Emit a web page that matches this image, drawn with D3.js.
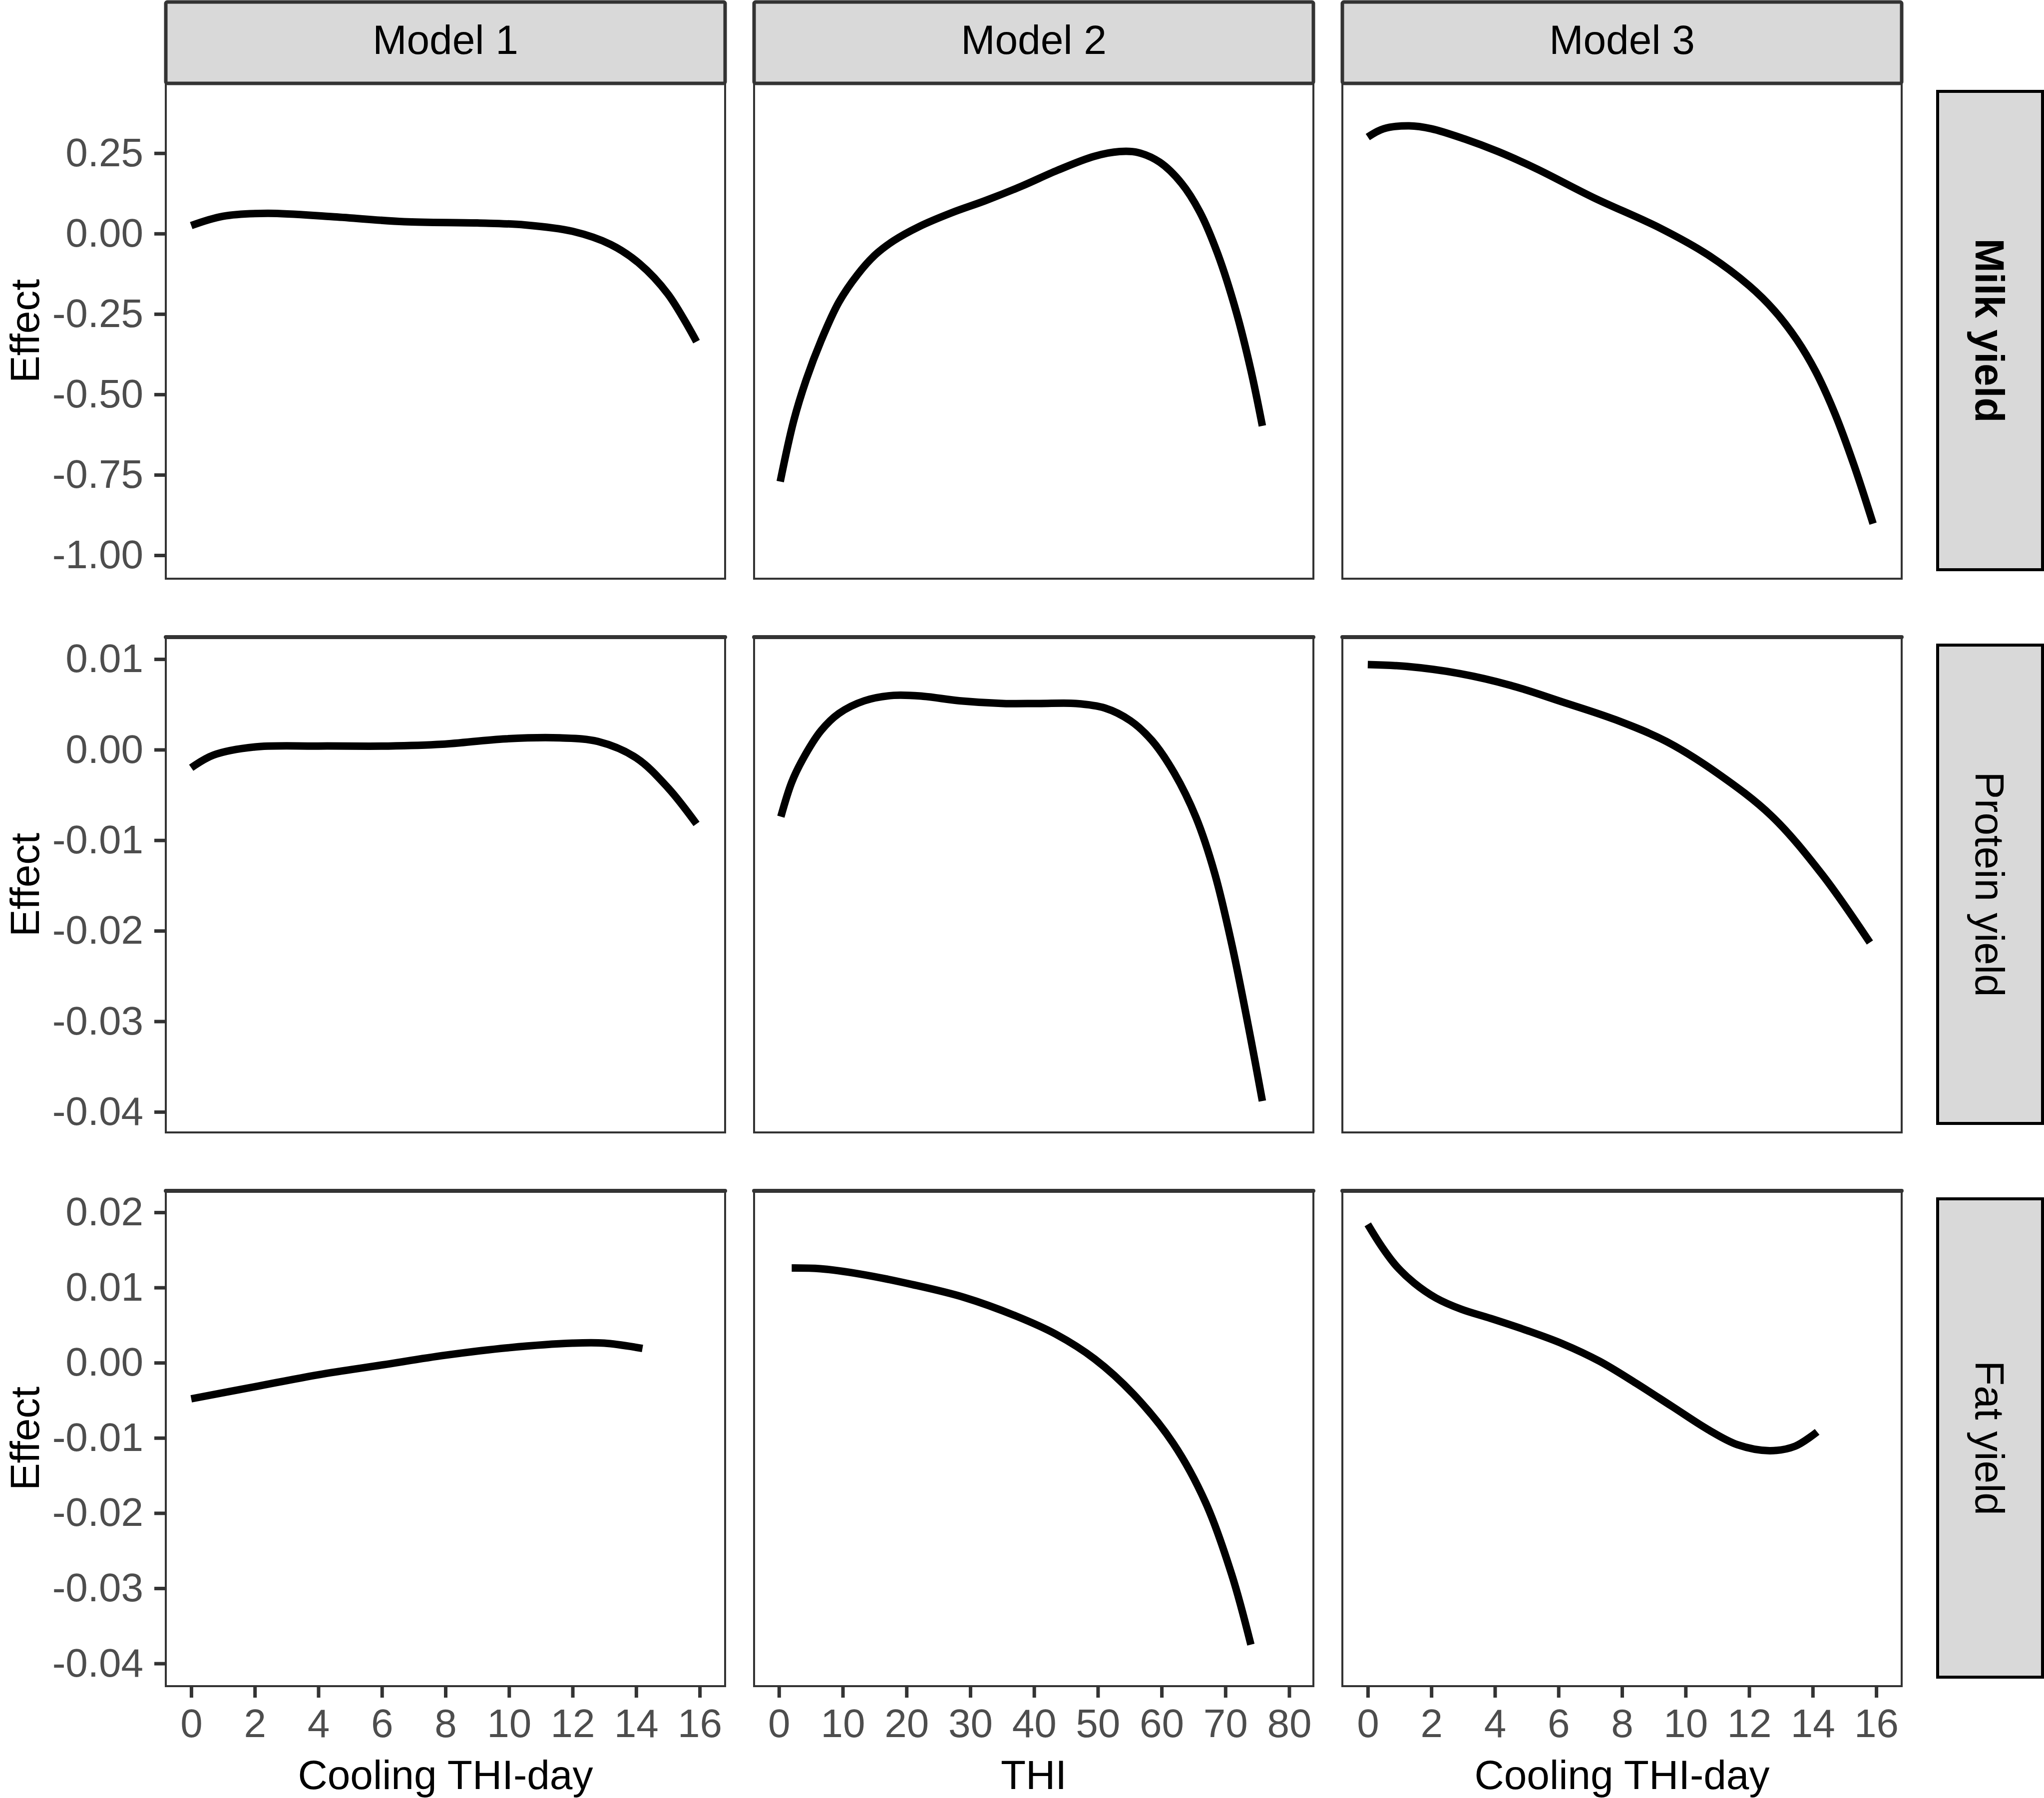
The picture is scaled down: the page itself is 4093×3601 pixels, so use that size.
<!DOCTYPE html>
<html>
<head>
<meta charset="utf-8">
<script src="https://cdn.jsdelivr.net/npm/d3@7"></script>
<style>
  body { margin: 0; background: #fff; }
  text { font-family: "Liberation Sans", Arial, sans-serif; }
</style>
</head>
<body>
<svg id="svg"></svg>
<script>
var larghezza = 4093;
var altezza = 3601;

// facet labels
var models = ["Model 1", "Model 2", "Model 3"];
var traits = ["Milk yield", "Protein yield", "Fat yield"];
var xTitles = ["Cooling THI-day", "THI", "Cooling THI-day"];

// tick values
var xTicksCool = [0, 2, 4, 6, 8, 10, 12, 14, 16];
var xTicksTHI = [0, 10, 20, 30, 40, 50, 60, 70, 80];
var yTicksMilk = [0.25, 0, -0.25, -0.5, -0.75, -1.0];
var yTicksProt = [0.01, 0, -0.01, -0.02, -0.03, -0.04];
var yTicksFat = [0.02, 0.01, 0, -0.01, -0.02, -0.03, -0.04];

// curves: [x, effect]
var milkM1 = [[0,0.025],[1,0.054],[2.4,0.063],[4.5,0.052],[6.7,0.037],[9,0.033],[10.5,0.027],[12,0.007],[13.2,-0.034],[14.1,-0.093],[15,-0.188],[15.9,-0.336]];
var milkM2 = [[0.2,-0.771],[2.3,-0.583],[4.3,-0.453],[6.6,-0.333],[9.4,-0.213],[12.3,-0.128],[15.1,-0.066],[18,-0.022],[22,0.022],[27.1,0.065],[32.3,0.102],[38,0.147],[43.7,0.197],[49.4,0.240],[53.4,0.255],[56.3,0.252],[59.7,0.222],[63.1,0.157],[66,0.067],[68.8,-0.063],[71.7,-0.243],[74,-0.425],[75.8,-0.598]];
var milkM3 = [[0,0.300],[0.5,0.326],[1.3,0.335],[2,0.326],[3.05,0.294],[4.1,0.255],[5.3,0.202],[7.1,0.112],[9.2,0.017],[10.7,-0.066],[12,-0.162],[12.8,-0.240],[13.5,-0.330],[14.1,-0.430],[14.7,-0.560],[15.3,-0.720],[15.9,-0.902]];

var protM1 = [[0,-0.0020],[0.7,-0.0006],[2,0.0003],[4,0.0004],[6.2,0.0004],[7.9,0.0006],[9.9,0.0012],[11.6,0.0013],[12.8,0.0009],[14,-0.0009],[15,-0.0042],[15.9,-0.0082]];
var protM2 = [[0.3,-0.0074],[2,-0.0036],[3.7,-0.0011],[6.6,0.0021],[9.4,0.0040],[13.4,0.0054],[18,0.0060],[22.6,0.0059],[28.3,0.0054],[35.2,0.0051],[40.8,0.0051],[46.6,0.0051],[51.1,0.0046],[55.1,0.0032],[58.5,0.0010],[62,-0.0026],[65.4,-0.0075],[68.3,-0.0136],[71.1,-0.0218],[74,-0.0320],[75.8,-0.0388]];
var protM3 = [[0,0.0094],[1.2,0.0092],[2.9,0.0084],[4.5,0.0071],[6.1,0.0053],[7.8,0.0033],[9.4,0.0009],[11,-0.0026],[12.7,-0.0073],[14.3,-0.0138],[15.8,-0.0213]];

var fatM1 = [[0,-0.0048],[2,-0.0032],[4,-0.0016],[6,-0.0003],[8,0.0010],[10,0.0020],[12,0.0026],[13,0.0026],[14.2,0.0019]];
var fatM2 = [[2,0.0126],[6.5,0.0125],[12.7,0.0118],[20.9,0.0104],[29,0.0087],[37.2,0.0062],[43.4,0.0038],[49.5,0.0005],[55.6,-0.0042],[61.8,-0.0107],[66.9,-0.0186],[71,-0.0282],[74,-0.0375]];
var fatM3 = [[0,0.0184],[0.43,0.0155],[0.89,0.0129],[1.46,0.0106],[2.15,0.0086],[2.95,0.0071],[3.86,0.0059],[5,0.0043],[6.14,0.0025],[7.29,0.0002],[8.43,-0.0027],[9.57,-0.0058],[10.71,-0.0089],[11.63,-0.0109],[12.65,-0.0117],[13.45,-0.0111],[14.14,-0.0092]];

var curves = [[milkM1, milkM2, milkM3], [protM1, protM2, protM3], [fatM1, fatM2, fatM3]];
var xTicks = [xTicksCool, xTicksTHI, xTicksCool];
var yTicks = [yTicksMilk, yTicksProt, yTicksFat];

// layout
var colLefts = [332, 1510, 2688];
var rowTops = [167, 1276, 2385];
var panelW = 1120;
var panelH = 992;
var xDomains = [[-0.8, 16.8], [-3.9, 83.8], [-0.8, 16.8]];
var yDomains = [[-1.073, 0.467], [-0.04227, 0.01243], [-0.04302, 0.02286]];

var tickColor = "#333333";
var labelColor = "#4d4d4d";
var stripFill = "#d9d9d9";

function fmt(d) {
    return d3.format(".2f")(d).replace("\u2212", "-");
}

function draw() {
    var svg = d3.select("#svg");
    svg.attr("width", larghezza).attr("height", altezza);
    svg.append("rect").attr("width", larghezza).attr("height", altezza).style("fill", "white");

    for (var r = 0; r < 3; r++) {
        for (var c = 0; c < 3; c++) {
            drawPanel(svg, r, c);
        }
    }
    drawStrips(svg);
    drawTitles(svg);
}

function drawPanel(svg, r, c) {
    var x = d3.scaleLinear().domain(xDomains[c]).range([colLefts[c], colLefts[c] + panelW]);
    var y = d3.scaleLinear().domain(yDomains[r]).range([rowTops[r] + panelH, rowTops[r]]);

    svg.append("rect")
        .attr("x", colLefts[c]).attr("y", rowTops[r])
        .attr("width", panelW).attr("height", panelH)
        .style("fill", "white")
        .style("stroke", tickColor)
        .style("stroke-width", "4px");

    var line = d3.line()
        .x(function (d) { return x(d[0]); })
        .y(function (d) { return y(d[1]); })
        .curve(d3.curveCatmullRom.alpha(0.5));

    svg.append("path")
        .datum(curves[r][c])
        .attr("d", line)
        .style("fill", "none")
        .style("stroke", "black")
        .style("stroke-width", "15px");

    if (c === 0) {
        var ax = svg.append("g")
            .attr("transform", "translate(" + colLefts[c] + ",0)")
            .call(d3.axisLeft(y).tickValues(yTicks[r]).tickFormat(fmt).tickSize(23).tickPadding(22).tickSizeOuter(0));
        styleAxis(ax);
    }
    if (r === 2) {
        var bx = svg.append("g")
            .attr("transform", "translate(0," + (rowTops[r] + panelH) + ")")
            .call(d3.axisBottom(x).tickValues(xTicks[c]).tickFormat(d3.format("d")).tickSize(23).tickPadding(22).tickSizeOuter(0));
        styleAxis(bx);
    }
}

function styleAxis(g) {
    g.select(".domain").remove();
    g.selectAll(".tick line").style("stroke", tickColor).style("stroke-width", "7px");
    g.selectAll(".tick text")
        .style("font-family", "'Liberation Sans', Arial, sans-serif")
        .style("font-size", "80px")
        .style("fill", labelColor);
}

function drawStrips(svg) {
    models.forEach(function (m, c) {
        svg.append("rect")
            .attr("x", colLefts[c]).attr("y", 4)
            .attr("width", panelW).attr("height", rowTops[0] - 4)
            .attr("rx", 3)
            .style("fill", stripFill)
            .style("stroke", tickColor)
            .style("stroke-width", "7px");
        svg.append("text")
            .attr("x", colLefts[c] + panelW / 2)
            .attr("y", 108)
            .attr("text-anchor", "middle")
            .style("font-size", "82px")
            .style("fill", "black")
            .text(m);
    });

    // thick top edge of the lower rows
    [1, 2].forEach(function (r) {
        colLefts.forEach(function (left) {
            svg.append("line")
                .attr("x1", left).attr("x2", left + panelW)
                .attr("y1", rowTops[r]).attr("y2", rowTops[r])
                .style("stroke", tickColor)
                .style("stroke-width", "8px")
                .style("stroke-linecap", "round");
        });
    });

    traits.forEach(function (t, r) {
        var top = rowTops[r] + 16;
        var bottom = rowTops[r] + panelH - 18;
        svg.append("rect")
            .attr("x", 3880).attr("y", top)
            .attr("width", 210).attr("height", bottom - top)
            .style("fill", stripFill)
            .style("stroke", "black")
            .style("stroke-width", "6px");
        svg.append("text")
            .attr("transform", "translate(3985," + ((top + bottom) / 2) + ") rotate(90)")
            .attr("text-anchor", "middle")
            .attr("dy", "0.35em")
            .style("font-size", "82px")
            .style("font-weight", r === 0 ? "bold" : "normal")
            .style("fill", "black")
            .text(t);
    });
}

function drawTitles(svg) {
    rowTops.forEach(function (top) {
        svg.append("text")
            .attr("transform", "translate(78," + (top + panelH / 2) + ") rotate(-90)")
            .attr("text-anchor", "middle")
            .style("font-size", "82px")
            .style("fill", "black")
            .text("Effect");
    });
    xTitles.forEach(function (t, c) {
        svg.append("text")
            .attr("x", colLefts[c] + panelW / 2)
            .attr("y", 3583)
            .attr("text-anchor", "middle")
            .style("font-size", "82px")
            .style("fill", "black")
            .text(t);
    });
}

draw();
</script>
</body>
</html>
